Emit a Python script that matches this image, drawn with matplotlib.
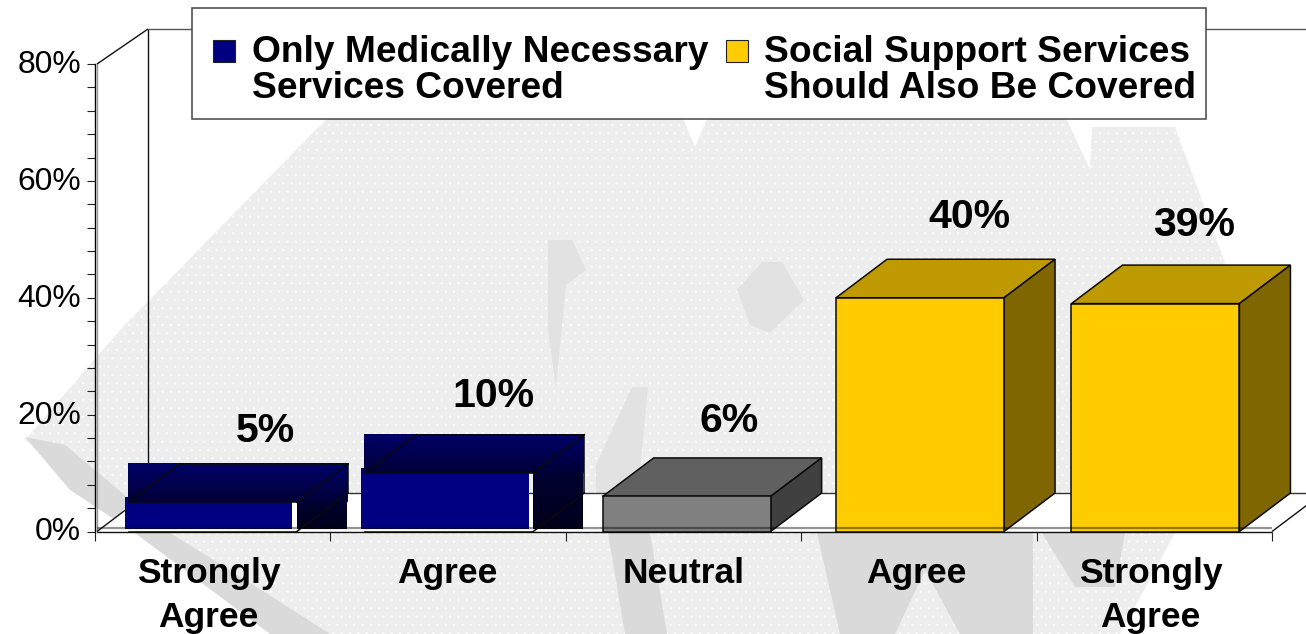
import numpy as np
import matplotlib
matplotlib.use("Agg")
import matplotlib.pyplot as plt
from matplotlib.patches import Polygon, Rectangle
from matplotlib.colors import to_rgb
from matplotlib.transforms import ScaledTranslation

categories = ["Strongly\nAgree", "Agree", "Neutral", "Agree", "Strongly\nAgree"]
values = [5, 10, 6, 40, 39]
value_labels = ["5%", "10%", "6%", "40%", "39%"]
legend_labels = ["Only Medically Necessary\nServices Covered",
                 "Social Support Services\nShould Also Be Covered"]
y_ticks = [0, 20, 40, 60, 80]
y_tick_labels = ["0%", "20%", "40%", "60%", "80%"]

W, H = 1306, 634
FONT = "Liberation Sans"
LIGHT, DARK, SOFT = "#ededed", "#dadada", "#e2e2e2"

plt.rcParams["hatch.linewidth"] = 0.6
fig = plt.figure(figsize=(W / 100, H / 100), dpi=100, facecolor="white")

# Faint logo sitting behind the whole slide, in pixel coordinates
bg = fig.add_axes([0, 0, 1, 1], zorder=0)
bg.set_xlim(0, W)
bg.set_ylim(H, 0)
bg.axis("off")
light_shapes = [
    [(345, 100), (675, 100), (695, 147), (715, 100), (1058, 100), (1090, 170),
     (1092, 127), (1175, 127), (1235, 290), (1235, 533), (1175, 533), (1120, 634),
     (300, 634), (150, 533), (25, 440), (120, 330)],
]
dark_shapes = [
    [(25, 437), (65, 445), (170, 533), (230, 570), (330, 634), (270, 634), (135, 533), (70, 490)],
    [(608, 533), (650, 533), (667, 634), (625, 634)],
    [(817, 533), (1033, 533), (1033, 634), (960, 634), (925, 570), (895, 634), (840, 634)],
    [(1042, 533), (1125, 533), (1115, 587), (1075, 587)],
]
soft_shapes = [
    [(548, 240), (572, 240), (586, 270), (566, 285), (556, 387), (548, 330)],
    [(762, 262), (782, 262), (804, 300), (770, 333), (750, 325), (737, 290)],
    [(632, 387), (648, 387), (640, 470), (640, 533), (596, 533), (596, 465)],
]
for pts in light_shapes:
    bg.add_patch(Polygon(pts, closed=True, facecolor=LIGHT, edgecolor="#fafafa",
                         hatch="..", lw=0))
for pts in dark_shapes:
    bg.add_patch(Polygon(pts, closed=True, facecolor=DARK, edgecolor="none"))
for pts in soft_shapes:
    bg.add_patch(Polygon(pts, closed=True, facecolor=SOFT, edgecolor="none"))

# Chart axes: one category step is 235.4 px, one percent is 5.84 px
ax = fig.add_axes([95 / W, (H - 531.5) / H, 1177 / W, 467.5 / H], zorder=1)
ax.patch.set_alpha(0)
ax.set_xlim(0, 5)
ax.set_ylim(0, 80)
px = 5 / 1177
py = 80 / 467.5
dx, dy = 51 * px, 38.5 * py
bar_w = 168 * px
bar_off = 0.148
bar_nudge = [-1, 0, 2, 0, 0]

for s in ("top", "right", "bottom"):
    ax.spines[s].set_visible(False)
ax.spines["left"].set_linewidth(1.0)
ax.set_yticks(y_ticks, y_tick_labels, fontname=FONT, fontsize=22.9)
ax.set_yticks(np.arange(0, 81, 4), minor=True)
ax.tick_params(axis="y", which="both", length=6, width=0.8, color="#222222", pad=4)
lift = ScaledTranslation(0, 2.5 / 100, fig.dpi_scale_trans)
for t in ax.get_yticklabels():
    t.set_transform(t.get_transform() + lift)
ax.set_xticks(np.arange(6))
ax.set_xticklabels([])
label_nudge = np.array([-4, -1, 0, -3, -4])
ax.set_xticks(np.arange(5) + 0.5 + label_nudge * px, categories, minor=True, fontname=FONT,
              fontsize=25.5, fontweight="bold", linespacing=1.4)
ax.tick_params(axis="x", which="major", length=6.5, width=0.8, color="#222222")
ax.tick_params(axis="x", which="minor", length=0, pad=18.5)

# Floor and walls
x_left = 2 * px
ax.add_patch(Polygon([(x_left, 0), (x_left + dx, dy), (5 + dx, dy), (5, 0)], closed=True,
                     facecolor="white", edgecolor="none", zorder=1, clip_on=False))
line = dict(color="#111111", lw=1.0, clip_on=False, zorder=1.5, solid_capstyle="butt")
ax.plot([x_left, x_left], [0, 80], color="#999999", lw=1.0, clip_on=False, zorder=1.5)
ax.plot([x_left, x_left + dx], [80, 80 + 35 * py], **line)
ax.plot([x_left + dx, x_left + dx], [dy, 80 + 35 * py], **line)
ax.plot([x_left + dx, 5.2], [80 + 35 * py] * 2, color="#555555", lw=1.0, clip_on=False, zorder=1.5)
ax.plot([x_left + dx, 5.2], [dy, dy], color="#333333", lw=1.0, clip_on=False, zorder=1.5)
ax.plot([x_left, x_left + dx], [0, dy], **line)
ax.plot([5, 5 + dx], [0, dy], **line)
ax.plot([x_left, 5], [0, 0], **line)


def gradient(x0, x1, y0, y1, top, bottom, z):
    rgb = np.linspace(to_rgb(top), to_rgb(bottom), 64).reshape(64, 1, 3)
    ax.imshow(rgb, extent=(x0, x1, y0, y1), aspect="auto", origin="upper",
              zorder=z, clip_on=False, interpolation="bilinear")


edge = dict(color="#0a0a0a", lw=1.1, clip_on=False, solid_joinstyle="miter")

for i, v in enumerate(values):
    z = 2 + i * 0.1
    L = i + bar_off + bar_nudge[i] * px
    R = L + bar_w
    top_pts = [(L, v), (L + dx, v + dy), (R + dx, v + dy), (R, v)]
    side_pts = [(R, 0), (R + dx, dy), (R + dx, v + dy), (R, v)]
    if i < 2:
        # Navy pair: front panel sits slightly proud of its outline
        ax.add_patch(Rectangle((L - 4 * px, 2.5 * py), bar_w - 0.5 * px, v + 3 * py,
                               facecolor="#000080", edgecolor="none", zorder=z, clip_on=False))
        gradient(R, R + dx - px, 2.5 * py, v, "#000030", "#00001c", z)
        gradient(L - px, R + dx, v, v + dy, "#000068", "#000038", z + 0.01)
        for a, b in [(top_pts[0], top_pts[1]), (top_pts[1], top_pts[2]), (top_pts[2], top_pts[3]),
                     (top_pts[3], top_pts[0]), ((R, 0), (R + dx, dy)), ((R + dx, dy), (R + dx, v + dy)),
                     ((L, 0), (R, 0))]:
            ax.plot([a[0], b[0]], [a[1], b[1]], zorder=z + 0.02, **edge)
    else:
        if i == 2:
            front, top, side = "#808080", "#606060", "#404040"
        else:
            front, top, side = "#ffcc00", "#bf9900", "#806600"
        for pts, col in [(top_pts, top), (side_pts, side)]:
            ax.add_patch(Polygon(pts, closed=True, facecolor=col, edgecolor="#0a0a0a",
                                 lw=1.1, zorder=z, clip_on=False))
        ax.add_patch(Rectangle((L, 0), bar_w, v, facecolor=front, edgecolor="#0a0a0a",
                               lw=1.1, zorder=z, clip_on=False))

# Grey band running along the front edge of the floor, across the bars
ax.plot([x_left, 5], [3.5 * py] * 2, color="#000000", alpha=0.42, lw=1.6,
        clip_on=False, zorder=3, solid_capstyle="butt")

# Value labels above each bar
label_dx = [52, 44, 44, 49, 39]
label_dy = [71, 77, 75, 81, 79]
for i, v in enumerate(values):
    x = i + bar_off + bar_w / 2 + label_dx[i] * px
    y = v + label_dy[i] * py
    ax.text(x, y, value_labels[i], ha="center", va="center", fontname=FONT,
            fontweight="bold", fontsize=29.5, zorder=4, clip_on=False)

# Legend panel, placed in pixel coordinates on top of the chart
lg = fig.add_axes([0, 0, 1, 1], zorder=2)
lg.set_xlim(0, W)
lg.set_ylim(H, 0)
lg.axis("off")
lg.add_patch(Rectangle((191.5, 7.5), 1014, 111.5, facecolor="white", edgecolor="#444444", lw=1.1))
series_colors = ["#000080", "#ffcc00"]
for x0, x1, col, lab in zip([213, 726], [252, 764], series_colors, legend_labels):
    lg.add_patch(Rectangle((x0, 40), 22, 22, facecolor=col, edgecolor="#222222", lw=0.8))
    for j, part in enumerate(lab.split("\n")):
        lg.text(x1, 53 + 35 * j, part, ha="left", va="center", fontname=FONT,
                fontweight="bold", fontsize=26.7)

fig.savefig("out.png", dpi=100, facecolor="white")
